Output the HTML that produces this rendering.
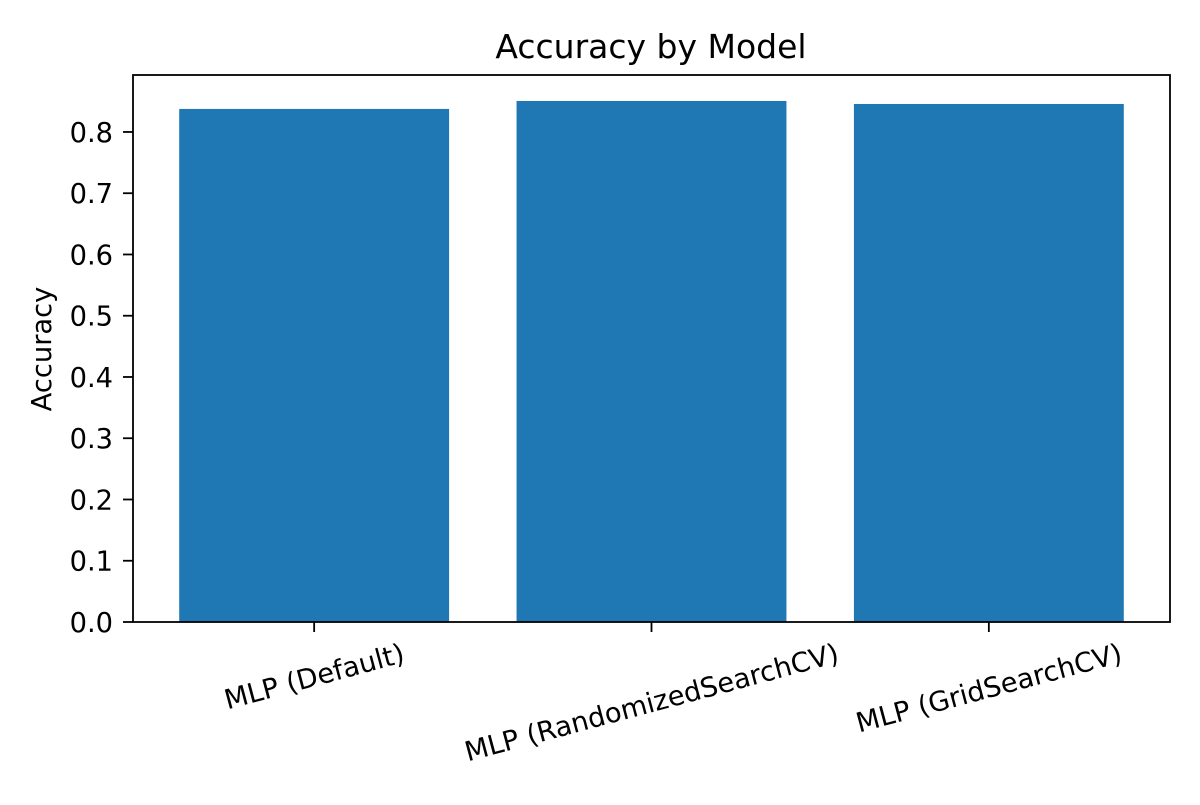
<!DOCTYPE html>
<html><head><meta charset="utf-8"><style>
html,body{margin:0;padding:0;background:#fff;}
svg text{font-family:"DejaVu Sans","Liberation Sans",sans-serif;fill:#000;}
</style></head><body>
<svg id="chart" width="1200" height="800" viewBox="0 0 1200 800" xmlns="http://www.w3.org/2000/svg">
<rect x="0" y="0" width="1200" height="800" fill="#fff"/>
<text x="651" y="58" font-size="33" text-anchor="middle">Accuracy by Model</text>
<text transform="translate(51,349) rotate(-90)" font-size="27.3" text-anchor="middle">Accuracy</text>
<g id="bars"></g>
<g id="yticks"></g>
<g id="xticks"></g>
<rect x="133" y="75" width="1037" height="547" fill="none" stroke="#000" stroke-width="1.8"/>
</svg>
<script>
const categories = ["MLP (Default)", "MLP (RandomizedSearchCV)", "MLP (GridSearchCV)"];
const accuracy = [0.8376, 0.8506, 0.8457];
const yTickValues = [0, 0.1, 0.2, 0.3, 0.4, 0.5, 0.6, 0.7, 0.8];
const yTickLabels = ["0.0","0.1","0.2","0.3","0.4","0.5","0.6","0.7","0.8"];

const NS = "http://www.w3.org/2000/svg";
const L = 133, R = 1170, T = 75, B = 622;
const xMin = -0.537, xMax = 2.537;
const yMin = 0, yMax = 0.893;
const FS = 27.3;
const xs = v => L + (v - xMin) / (xMax - xMin) * (R - L);
const ys = v => B - (v - yMin) / (yMax - yMin) * (B - T);
function mk(tag, attrs){const e=document.createElementNS(NS,tag);for(const k in attrs)e.setAttribute(k,attrs[k]);return e;}

const bars = document.getElementById("bars");
const barW = 0.8;
accuracy.forEach((v,i)=>{
  const x0 = xs(i - barW/2), x1 = xs(i + barW/2);
  const r = mk("rect",{x:x0,y:ys(v),width:x1-x0,height:ys(0)-ys(v),fill:"#1f77b4"});
  
  
  bars.appendChild(r);
});

const yt = document.getElementById("yticks");
yTickValues.forEach((v,i)=>{
  const y = ys(v);
  const ln = mk("line",{x1:L-10,x2:L,y1:y,y2:y,stroke:"#000","stroke-width":1.8});
  
  
  yt.appendChild(ln);
  const t = mk("text",{x:L-20,y:y+9.8,"font-size":FS,"text-anchor":"end"});
  t.textContent = yTickLabels[i];
  
  
  yt.appendChild(t);
});

const xt = document.getElementById("xticks");
categories.forEach((c,i)=>{
  const x = xs(i);
  const ln = mk("line",{x1:x,x2:x,y1:B,y2:B+10,stroke:"#000","stroke-width":1.8});
  
  
  xt.appendChild(ln);
  const t = mk("text",{"font-size":FS,"text-anchor":"middle"});
  t.textContent = c;
  xt.appendChild(t);
  const w = t.getComputedTextLength();
  const a = 15*Math.PI/180;
  const cy = B + 17 + w*Math.sin(a)/2 + FS*0.5*Math.cos(a);
  t.setAttribute("transform",`translate(${x},${cy}) rotate(-15)`);
  t.setAttribute("y", FS*0.36);
  
  
});
</script>
</body></html>
